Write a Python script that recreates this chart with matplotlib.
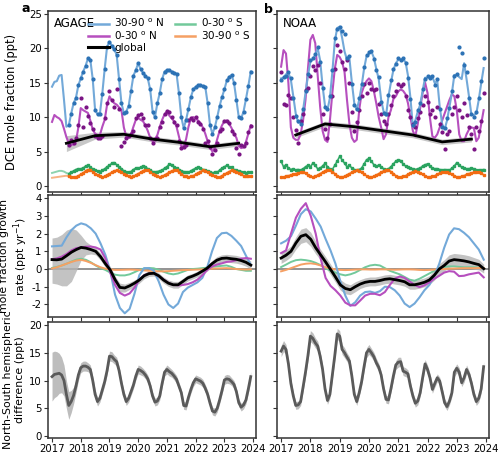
import numpy as np
import matplotlib
matplotlib.use("Agg")
import matplotlib.pyplot as plt
from matplotlib.lines import Line2D

plt.rcParams["axes.unicode_minus"] = False

# ---------------- data ----------------
months = 2017 + np.arange(84) / 12.0          # monthly time axis, Jan 2017 - Dec 2023
grid = np.linspace(2017.0, 2023.92, 42)       # growth-rate time axis
glob_years = [2017.5, 2018.5, 2019.5, 2020.5, 2021.5, 2022.5, 2023.5]

# AGAGE mole fractions (ppt)
n30_90_a = [14.4, 15.1, 15.2, 16.0, 16.1, 12.5, 8.6, 8.8, 10.5, 12.0, 12.8, 14.6,
            15.6, 16.6, 17.4, 18.5, 18.3, 15.5, 11.0, 10.4, 10.5, 13.4, 17.0, 20.2,
            20.9, 20.3, 19.8, 19.0, 15.5, 12.0, 10.6, 10.8, 11.6, 13.8, 16.0, 16.8,
            17.8, 16.9, 16.4, 16.0, 15.6, 14.0, 10.8, 10.0, 12.0, 13.5, 15.5, 16.6,
            16.8, 16.8, 16.6, 16.4, 16.3, 13.5, 10.0, 8.4, 9.6, 11.2, 12.9, 14.0,
            14.4, 14.6, 14.6, 14.5, 14.4, 12.0, 8.8, 7.6, 8.5, 10.0, 11.6, 12.9,
            14.0, 15.3, 15.8, 16.1, 15.0, 12.5, 10.0, 9.8, 10.8, 12.6, 14.5, 16.6]
n0_30_a = [9.3, 10.3, 10.0, 9.8, 9.4, 8.3, 7.1, 6.2, 6.0, 6.0, 6.5, 8.5,
           11.3, 11.0, 10.8, 10.6, 9.5, 8.2, 7.6, 7.4, 7.4, 8.6, 9.6, 11.8,
           13.0, 12.4, 12.0, 11.8, 11.4, 11.0, 8.5, 7.2, 7.0, 7.5, 8.6, 9.6,
           9.9, 9.6, 9.4, 8.8, 8.0, 7.0, 6.5, 6.8, 7.4, 8.6, 9.6, 10.4,
           10.8, 10.2, 9.8, 9.4, 8.6, 7.2, 5.8, 5.7, 6.8, 8.6, 9.8, 10.0,
           9.8, 9.5, 9.1, 8.5, 7.6, 6.5, 5.6, 5.0, 5.6, 6.8, 8.0, 8.8,
           9.4, 9.5, 9.0, 8.4, 7.6, 7.0, 5.8, 5.5, 5.6, 6.4, 7.6, 8.8]
n0_30_a_obs = [np.nan] * 7 + [
           6.0, 6.7, 6.3, 7.0, 8.8,
           12.7, 8.6, 11.5, 10.2, 9.1, 8.3, 7.2, 7.0, 7.0, 7.2, 9.8, 12.0,
           13.8, 12.5, 11.5, 14.0, 11.2, 5.8, 6.4, 7.0, 7.2, 7.5, 8.0, 9.8,
           10.3, 10.4, 9.9, 8.9, 8.8, 7.0, 6.3, 6.8, 7.0, 8.5, 9.3, 10.5,
           10.9, 10.7, 10.0, 9.3, 8.9, 6.5, 5.5, 5.6, 6.0, 9.6, 9.8, 9.6,
           10.0, 9.3, 9.0, 8.3, 6.2, 6.6, 5.6, 4.6, 5.2, 6.2, 8.0, 8.2,
           9.5, 9.4, 9.2, 8.0, 7.5, 5.5, 4.6, 6.0, 5.8, 6.2, 7.9, 8.7]
s0_30_a = [1.9, 2.0, 2.1, 2.2, 2.2, 2.1, 1.9, 1.8, 2.0, 2.2, 2.4, 2.5,
           2.5, 2.6, 2.9, 3.0, 2.7, 2.5, 2.3, 2.2, 2.1, 2.3, 2.5, 2.8,
           3.0, 3.3, 3.4, 3.1, 2.8, 2.5, 2.2, 2.0, 2.0, 2.1, 2.4, 2.6,
           2.6, 2.7, 2.9, 2.8, 2.5, 2.3, 2.1, 2.0, 2.1, 2.2, 2.3, 2.6,
           2.8, 3.2, 3.1, 2.8, 2.6, 2.4, 2.2, 2.1, 2.0, 2.0, 2.2, 2.4,
           2.6, 2.7, 2.6, 2.4, 2.3, 2.2, 2.0, 1.9, 2.0, 2.0, 2.3, 2.6,
           2.8, 3.0, 2.7, 2.7, 2.4, 2.3, 2.2, 2.1, 2.0, 1.9, 2.0, 2.0]
s30_90_a = [1.2, 1.25, 1.3, 1.35, 1.4, 1.45, 1.5, 1.4, 1.35, 1.3, 1.3, 1.5,
            1.7, 1.9, 2.2, 2.4, 2.3, 2.1, 1.8, 1.6, 1.4, 1.3, 1.4, 1.6,
            1.8, 2.0, 2.2, 2.3, 2.2, 2.0, 1.8, 1.6, 1.4, 1.3, 1.4, 1.6,
            1.8, 2.0, 2.2, 2.4, 2.3, 2.1, 1.8, 1.6, 1.4, 1.3, 1.4, 1.6,
            1.8, 2.0, 2.2, 2.3, 2.3, 2.0, 1.8, 1.5, 1.4, 1.3, 1.4, 1.5,
            1.7, 1.9, 2.1, 2.3, 2.2, 2.0, 1.8, 1.6, 1.4, 1.3, 1.3, 1.5,
            1.7, 1.9, 2.1, 2.3, 2.2, 2.1, 1.9, 1.7, 1.5, 1.4, 1.5, 1.4]
glob_a = [6.2, 7.3, 7.5, 6.8, 6.3, 5.7, 6.2]
glob_a_lo = [5.0, 6.8, 7.1, 6.4, 5.9, 5.3, 5.8]
glob_a_hi = [7.3, 7.8, 7.9, 7.2, 6.7, 6.1, 6.6]

# NOAA mole fractions (ppt)
n30_90_b = [15.6, 15.7, 16.2, 16.4, 15.4, 13.0, 10.5, 9.2, 9.2, 11.0, 13.5, 16.0,
            18.0, 18.4, 19.0, 20.0, 18.2, 14.5, 11.6, 11.0, 12.8, 16.5, 21.0, 22.9,
            23.1, 21.5, 19.5, 18.3, 18.5, 15.0, 12.0, 11.0, 12.5, 14.5, 17.0, 18.8,
            19.2, 19.5, 18.6, 17.0, 15.5, 12.5, 10.8, 10.2, 13.0, 15.0, 16.8, 17.8,
            18.3, 18.4, 18.3, 18.0, 16.0, 12.8, 8.6, 9.5, 10.8, 11.8, 13.8, 15.7,
            15.7, 15.9, 15.8, 14.9, 15.3, 11.5, 9.0, 8.2, 9.5, 11.5, 13.5, 16.1,
            16.1, 15.8, 15.5, 17.8, 15.5, 13.0, 10.3, 10.3, 10.5, 12.5, 14.9, 17.1]
n30_90_b_obs = [15.4, 15.8, 16.0, 16.6, 15.6, 12.8, 10.2, 9.4, 9.0, 11.2, 13.8, 16.2,
                18.3, 18.6, 19.2, 20.2, 18.0, 14.2, 11.4, 11.2, 13.0, 16.8, 21.5, 22.8,
                23.0, 22.4, 22.0, 18.5, 18.8, 14.8, 11.8, 11.2, 12.8, 14.8, 17.3, 19.0,
                19.4, 19.6, 18.4, 16.8, 15.8, 12.2, 10.6, 10.4, 13.2, 15.4, 17.0, 17.7,
                18.5, 18.2, 18.6, 17.8, 15.7, 12.6, 8.9, 9.3, 11.0, 12.0, 14.0, 15.5,
                15.9, 15.6, 16.0, 14.6, 15.5, 11.2, 8.6, 8.4, 9.8, 11.3, 13.8, 16.0,
                16.3, 20.1, 19.3, 17.5, 16.5, 12.8, 10.5, 10.0, 10.8, 12.8, 15.2, 18.6]
n0_30_b = [17.3, 19.7, 19.2, 14.9, 8.5, 7.0, 6.7, 6.7, 7.5, 9.5, 12.5, 17.0,
           21.2, 21.9, 20.7, 16.0, 11.5, 8.0, 6.7, 6.4, 9.5, 13.5, 17.0, 19.0,
           18.7, 18.0, 16.5, 12.5, 9.0, 7.0, 6.4, 6.7, 11.0, 13.5, 14.5, 15.2,
           15.6, 15.2, 13.8, 12.0, 10.0, 8.5, 6.8, 7.5, 10.0, 11.0, 12.6, 13.0,
           13.7, 14.0, 13.8, 13.3, 12.0, 10.0, 8.0, 7.2, 9.0, 11.3, 13.5, 15.0,
           13.5, 9.9, 7.2, 7.0, 7.5, 8.5, 9.5, 10.5, 11.5, 12.5, 13.3, 13.0,
           11.0, 7.5, 6.5, 6.5, 7.5, 8.2, 8.5, 8.4, 6.5, 7.0, 9.0, 11.0]
n0_30_b_obs = [16.6, 11.9, 11.7, 13.2, 12.8, 10.0, 8.1, 6.2, 9.5, 10.5, 13.9, 14.2,
               16.0, 17.4, 16.8, 17.5, 15.0, 10.5, 8.3, 7.0, 9.0, 13.0, 17.0, 20.5,
               19.5, 18.0, 17.0, 18.3, 15.0, 10.8, 8.0, 9.3, 11.0, 13.0, 14.8, 13.5,
               15.0, 14.0, 13.9, 14.0, 11.9, 10.5, 9.5, 9.0, 10.5, 11.8, 13.0, 13.8,
               14.8, 14.5, 14.8, 13.0, 11.0, 10.0, 9.0, 8.5, 9.8, 10.8, 11.8, 13.0,
               12.2, 10.5, 11.0, 10.0, 11.5, 9.0, 7.8, 5.4, 7.5, 8.0, 10.5, 11.5,
               13.0, 11.0, 10.0, 12.0, 10.3, 8.5, 7.5, 5.3, 8.5, 8.0, 9.5, 13.5]
s0_30_b = [3.6, 2.8, 3.1, 2.6, 2.4, 2.5, 2.3, 2.4, 2.3, 2.5, 2.8, 3.0,
           2.8, 3.3, 3.0, 2.5, 2.6, 2.9, 3.3, 2.8, 2.5, 2.4, 3.0, 3.6,
           4.3, 3.8, 3.3, 2.8, 3.0, 2.6, 2.4, 2.3, 2.4, 2.6, 3.2, 3.8,
           4.0, 3.6, 3.1, 2.9, 3.0, 2.8, 2.5, 2.4, 2.5, 2.8, 3.2, 3.6,
           3.8, 3.7, 3.2, 2.9, 2.7, 2.6, 2.5, 2.4, 2.5, 2.6, 2.9, 3.1,
           3.2, 2.9, 2.6, 2.5, 2.5, 2.4, 2.3, 2.4, 2.3, 2.3, 2.6, 2.9,
           3.4, 3.1, 2.7, 2.6, 2.5, 2.5, 2.6, 2.5, 2.3, 2.3, 2.3, 2.4]
s30_90_b = [1.3, 1.3, 1.4, 1.5, 1.6, 1.7, 1.8, 1.9, 2.0, 2.1, 1.9, 1.6,
            1.4, 1.3, 1.4, 1.6, 1.8, 2.0, 2.2, 2.4, 2.3, 2.1, 1.8, 1.5,
            1.3, 1.3, 1.4, 1.6, 1.8, 2.0, 2.2, 2.3, 2.2, 2.0, 1.7, 1.5,
            1.3, 1.3, 1.4, 1.6, 1.8, 2.0, 2.2, 2.4, 2.3, 2.1, 1.8, 1.5,
            1.3, 1.3, 1.4, 1.5, 1.7, 1.9, 2.1, 2.2, 2.1, 1.9, 1.7, 1.5,
            1.3, 1.3, 1.4, 1.5, 1.7, 1.9, 2.0, 2.1, 2.0, 1.9, 1.7, 1.5,
            1.3, 1.3, 1.4, 1.5, 1.7, 1.8, 1.9, 2.0, 2.1, 2.1, 1.9, 1.6]
glob_b = [7.4, 9.0, 8.6, 8.0, 7.4, 6.4, 6.8]
glob_b_lo = [7.0, 8.6, 8.2, 7.6, 7.0, 6.0, 6.4]
glob_b_hi = [7.8, 9.4, 9.0, 8.4, 7.8, 6.8, 7.2]

# growth rates (ppt/yr), AGAGE
gr_n30_90_a = [1.28, 1.3, 1.32, 1.8, 2.2, 2.45, 2.58, 2.5, 2.3, 2.0, 1.45, 0.8, -0.1, -1.45,
               -2.2, -2.5, -2.25, -1.4, -0.35, 0.05, 0.05, -0.1, -0.7, -1.45, -2.0, -2.2, -1.95, -1.3,
               -1.05, -0.9, -0.75, -0.5, 0.1, 1.0, 1.75, 2.02, 2.05, 1.87, 1.6, 1.3, 0.75, 0.24]
gr_n0_30_a = [0.55, 0.6, 0.7, 0.85, 1.05, 1.18, 1.22, 1.26, 1.27, 1.22, 1.1, 0.6, -0.2, -0.9,
              -1.35, -1.5, -1.38, -1.05, -0.6, -0.35, -0.25, -0.23, -0.4, -0.6, -0.78, -0.9, -0.92, -0.9,
              -0.85, -0.75, -0.6, -0.35, -0.05, 0.15, 0.25, 0.32, 0.4, 0.43, 0.5, 0.58, 0.62, 0.58]
gr_s0_30_a = [0.06, 0.12, 0.2, 0.3, 0.42, 0.53, 0.58, 0.52, 0.38, 0.2, 0.05, -0.05, -0.2, -0.32,
              -0.36, -0.36, -0.3, -0.18, -0.05, 0.03, 0.06, 0.04, -0.05, -0.15, -0.25, -0.3, -0.25, -0.15,
              -0.05, 0.0, 0.02, 0.05, 0.08, 0.12, 0.15, 0.18, 0.2, 0.12, 0.0, -0.05, -0.1, -0.1]
gr_s30_90_a = [0.03, 0.1, 0.2, 0.3, 0.4, 0.48, 0.52, 0.45, 0.35, 0.22, 0.1, 0.02, -0.02, -0.05,
               -0.05, -0.04, -0.03, -0.04, -0.06, -0.08, -0.1, -0.12, -0.13, -0.13, -0.12, -0.1, -0.08, -0.06,
               -0.05, -0.04, -0.03, -0.02, 0.0, 0.02, 0.03, 0.04, 0.05, 0.03, 0.0, -0.02, -0.03, -0.02]
gr_glob_a = [0.53, 0.52, 0.56, 0.75, 0.95, 1.1, 1.22, 1.18, 1.1, 1.0, 0.7, 0.3, -0.05, -0.6,
             -1.04, -1.07, -0.95, -0.8, -0.62, -0.38, -0.26, -0.24, -0.38, -0.62, -0.8, -0.89, -0.89, -0.7,
             -0.5, -0.4, -0.28, -0.12, 0.05, 0.3, 0.5, 0.6, 0.62, 0.58, 0.55, 0.48, 0.38, 0.22]
gr_glob_a_hi = [1.75, 1.8, 1.95, 2.2, 2.3, 2.2, 1.9, 1.55, 1.35, 1.2, 0.9, 0.5, 0.15, -0.4,
                -0.8, -0.85, -0.75, -0.62, -0.45, -0.22, -0.1, -0.08, -0.22, -0.45, -0.62, -0.7, -0.7, -0.52,
                -0.33, -0.24, -0.12, 0.04, 0.22, 0.48, 0.7, 0.8, 0.83, 0.8, 0.77, 0.7, 0.6, 0.45]
gr_glob_a_lo = [-0.8, -0.85, -0.95, -0.95, -0.7, -0.1, 0.5, 0.8, 0.85, 0.8, 0.5, 0.1, -0.25, -0.8,
                -1.3, -1.3, -1.15, -0.98, -0.8, -0.55, -0.42, -0.4, -0.55, -0.8, -0.98, -1.08, -1.08, -0.88,
                -0.67, -0.56, -0.44, -0.28, -0.12, 0.12, 0.3, 0.4, 0.41, 0.36, 0.33, 0.26, 0.16, 0.0]

# growth rates (ppt/yr), NOAA
gr_n30_90_b = [1.45, 1.6, 1.85, 2.45, 3.1, 3.38, 3.25, 2.85, 2.4, 1.7, 1.05, 0.3, -0.7, -1.5,
               -2.08, -1.88, -1.5, -1.3, -1.27, -1.35, -1.25, -1.0, -1.02, -1.2, -1.5, -1.95, -2.15, -1.95,
               -1.6, -1.2, -0.9, -0.4, 0.3, 1.2, 1.95, 2.3, 2.25, 2.05, 1.8, 1.45, 1.1, 0.53]
gr_n0_30_b = [0.9, 1.05, 2.0, 2.9, 3.4, 3.72, 3.0, 2.0, 0.6, -0.5, -0.95, -1.2, -1.5, -1.9,
              -2.05, -2.05, -1.78, -1.5, -1.4, -1.4, -1.48, -1.3, -0.9, -0.55, -0.42, -0.5, -0.7, -0.9,
              -1.02, -0.92, -0.75, -0.55, -0.38, -0.2, -0.12, -0.15, -0.4, -0.38, -0.3, -0.25, -0.2, -0.47]
gr_s0_30_b = [0.11, 0.25, 0.4, 0.5, 0.53, 0.5, 0.45, 0.35, 0.22, 0.05, -0.1, -0.2, -0.3, -0.36,
              -0.3, -0.2, -0.05, 0.1, 0.2, 0.24, 0.2, 0.05, -0.1, -0.2, -0.3, -0.45, -0.6, -0.66,
              -0.55, -0.4, -0.25, -0.1, 0.05, 0.12, 0.15, 0.15, 0.12, 0.1, 0.1, 0.1, 0.08, 0.06]
gr_s30_90_b = [-0.13, -0.05, 0.05, 0.15, 0.25, 0.3, 0.32, 0.28, 0.2, 0.1, 0.03, -0.02, -0.05, -0.06,
               -0.05, -0.03, -0.02, -0.02, -0.03, -0.03, -0.02, -0.02, -0.03, -0.04, -0.03, -0.02, -0.02, -0.03,
               -0.05, -0.06, -0.05, -0.03, -0.01, 0.0, 0.02, 0.03, 0.04, 0.05, 0.05, 0.05, 0.06, 0.06]
gr_glob_b = [0.62, 0.78, 1.0, 1.47, 1.85, 1.94, 1.68, 1.2, 0.8, 0.4, -0.02, -0.45, -0.9, -1.1,
             -1.17, -1.0, -0.85, -0.75, -0.7, -0.7, -0.65, -0.58, -0.55, -0.6, -0.65, -0.72, -0.89, -0.89,
             -0.83, -0.75, -0.62, -0.35, 0.0, 0.2, 0.45, 0.53, 0.5, 0.46, 0.4, 0.32, 0.25, 0.02]
gr_glob_b_err = [0.3, 0.3, 0.3, 0.35, 0.4, 0.4, 0.4, 0.35, 0.3, 0.3, 0.3, 0.3, 0.3, 0.3,
                 0.28, 0.28, 0.25, 0.25, 0.25, 0.25, 0.25, 0.25, 0.25, 0.25, 0.25, 0.25, 0.25, 0.25,
                 0.25, 0.25, 0.25, 0.28, 0.3, 0.32, 0.35, 0.35, 0.35, 0.35, 0.35, 0.33, 0.3, 0.25]

# north-south difference (ppt)
ns_a = [10.7, 11.1, 11.2, 11.3, 11.0, 10.0, 7.5, 5.5, 6.2, 7.3, 9.0, 11.0,
        12.3, 12.6, 12.6, 12.4, 12.0, 10.0, 7.5, 6.2, 6.8, 8.3, 9.8, 11.8,
        14.4, 14.3, 13.8, 13.4, 11.8, 9.5, 7.5, 6.2, 6.8, 8.0, 9.2, 10.8,
        12.0, 11.8, 11.5, 11.0, 10.3, 9.0, 7.2, 6.1, 6.3, 7.2, 9.5, 11.5,
        12.0, 11.6, 11.3, 10.8, 10.2, 9.0, 7.8, 5.5, 5.4, 7.0, 8.4, 9.6,
        10.3, 10.1, 9.9, 9.5, 8.6, 7.5, 5.9, 4.5, 4.3, 5.0, 6.5, 8.2,
        10.1, 10.3, 10.2, 9.8, 9.3, 8.0, 6.0, 5.2, 5.6, 6.5, 8.5, 10.7]
ns_a_err = [4.4, 4.2, 4.0, 3.6, 3.2, 2.8, 2.5, 2.5, 2.0, 1.5, 1.2, 1.0,
            0.9, 0.9, 0.9, 0.8, 0.8, 0.8, 0.8, 0.8, 0.7, 0.7, 0.7, 0.8,
            0.9, 0.9, 0.8, 0.8, 0.8, 0.7, 0.7, 0.7, 0.7, 0.7, 0.7, 0.7,
            0.8, 0.8, 0.7, 0.7, 0.7, 0.7, 0.7, 0.7, 0.7, 0.7, 0.7, 0.7,
            0.8, 0.8, 0.7, 0.7, 0.7, 0.7, 0.7, 0.7, 0.7, 0.7, 0.7, 0.7,
            0.7, 0.7, 0.7, 0.7, 0.7, 0.7, 0.7, 0.7, 0.7, 0.7, 0.7, 0.7,
            0.8, 0.8, 0.8, 0.7, 0.7, 0.7, 0.7, 0.7, 0.7, 0.7, 0.8, 0.9]
ns_b = [15.3, 16.2, 15.6, 13.0, 9.5, 7.2, 5.5, 5.6, 6.2, 8.8, 11.5, 14.5,
        18.0, 17.6, 16.8, 16.2, 14.4, 12.0, 8.5, 6.4, 7.5, 11.0, 14.5, 18.4,
        18.0, 15.6, 15.0, 14.2, 13.5, 10.8, 7.5, 6.2, 7.8, 9.8, 12.5, 15.0,
        15.6, 15.0, 14.3, 13.2, 12.4, 11.0, 8.5, 6.6, 6.5, 8.5, 10.8, 12.8,
        13.3, 13.4, 11.7, 11.5, 11.2, 9.0, 7.2, 5.9, 6.3, 7.8, 10.5, 13.0,
        12.0, 10.5, 8.4, 9.5, 10.5, 9.9, 8.0, 6.0, 5.3, 6.3, 7.8, 11.5,
        12.2, 11.5, 9.6, 10.5, 12.0, 11.1, 9.5, 7.5, 6.2, 6.8, 8.5, 12.5]
ns_b_err = [1.0, 1.0, 0.9, 0.8, 0.8, 0.7, 0.7, 0.7, 0.7, 0.8, 0.9, 1.0,
            1.0, 1.0, 0.9, 0.9, 0.8, 0.8, 0.7, 0.7, 0.7, 0.8, 0.9, 1.0,
            1.0, 0.9, 0.9, 0.8, 0.8, 0.7, 0.7, 0.7, 0.7, 0.8, 0.8, 0.9,
            0.9, 0.8, 0.8, 0.8, 0.7, 0.7, 0.7, 0.7, 0.7, 0.7, 0.8, 0.8,
            0.9, 0.8, 0.8, 0.8, 0.7, 0.7, 0.7, 0.7, 0.7, 0.7, 0.8, 0.8,
            0.8, 0.8, 0.7, 0.7, 0.7, 0.7, 0.7, 0.7, 0.7, 0.7, 0.7, 0.8,
            0.8, 0.8, 0.7, 0.8, 0.8, 0.7, 0.7, 0.7, 0.7, 0.7, 0.8, 0.9]

# ---------------- style ----------------
C_BLUE, C_BLUE_D = "#73a9d9", "#2c72b5"
C_PURP, C_PURP_D = "#b64fbe", "#7a1384"
C_GREEN, C_GREEN_D = "#72c99b", "#2aa35f"
C_ORANGE, C_ORANGE_D = "#f5a064", "#f26b12"
SPINE = "#333333"

fig = plt.figure(figsize=(5.0, 4.53), dpi=100)

cols = [(0.096, 0.416), (0.554, 0.424)]
rows = [(0.576, 0.3996), (0.3002, 0.2693), (0.0331, 0.256)]
ylims = [(-0.87, 25.36), (-2.71, 4.18), (-0.36, 20.54)]
yticks = [[0, 5, 10, 15, 20, 25], [-2, -1, 0, 1, 2, 3, 4], [0, 5, 10, 15, 20]]

axes = [[None, None], [None, None], [None, None]]
for r, (y0, h) in enumerate(rows):
    for c, (x0, w) in enumerate(cols):
        ax = fig.add_axes([x0, y0, w, h])
        ax.set_xlim(2016.86, 2024.1)
        ax.set_ylim(*ylims[r])
        ax.set_xticks(range(2017, 2025))
        ax.set_yticks(yticks[r])
        for s in ax.spines.values():
            s.set_color(SPINE)
            s.set_linewidth(1.1)
        ax.tick_params(direction="out", length=3, width=0.8, color=SPINE,
                       labelsize=7.3, pad=1.5)
        if r < 2:
            ax.set_xticklabels([])
        if c == 1:
            ax.set_yticklabels([])
        axes[r][c] = ax

# ---- top row: mole fractions ----
top_sets = [
    (axes[0][0], "AGAGE", n30_90_a, n30_90_a, n0_30_a, n0_30_a_obs, s0_30_a, s30_90_a,
     glob_a, glob_a_lo, glob_a_hi, 7),
    (axes[0][1], "NOAA", n30_90_b, n30_90_b_obs, n0_30_b, n0_30_b_obs, s0_30_b, s30_90_b,
     glob_b, glob_b_lo, glob_b_hi, 0),
]
for (ax, name, nb, nb_obs, np_, np_obs, sg, so, gl, gl_lo, gl_hi, i0) in top_sets:
    ax.fill_between(glob_years, gl_lo, gl_hi, color="#b0b0b0", alpha=0.7, lw=0, zorder=1)
    ax.plot(months, sg, color=C_GREEN, lw=1.4, alpha=0.8, zorder=2)
    ax.plot(months[i0:], sg[i0:], color=C_GREEN_D, lw=0.8, marker="s", ms=1.8, zorder=3)
    ax.plot(months, so, color=C_ORANGE, lw=1.4, alpha=0.8, zorder=2)
    ax.plot(months[i0:], so[i0:], color=C_ORANGE_D, lw=0.8, marker="s", ms=1.8, zorder=3)
    ax.plot(months, np_, color=C_PURP, lw=1.5, zorder=2)
    ax.plot(months, np_obs, ls="none", marker="o", ms=2.0, color=C_PURP_D, zorder=3)
    ax.plot(months, nb, color=C_BLUE, lw=1.5, zorder=2)
    ax.plot(months[i0:], nb_obs[i0:], ls="none", marker="o", ms=2.0, color=C_BLUE_D, zorder=3)
    ax.plot(glob_years, gl, color="black", lw=2.0, zorder=4)
    ax.text(0.03, 0.965, name, transform=ax.transAxes, ha="left", va="top", fontsize=8.5)

# legend in panel a
handles = [Line2D([], [], color=C_BLUE, lw=1.8),
           Line2D([], [], color=C_PURP, lw=1.8),
           Line2D([], [], color="black", lw=2.2),
           Line2D([], [], color=C_GREEN, lw=1.8),
           Line2D([], [], color=C_ORANGE, lw=1.8)]
labels = ["30-90 $^\\mathrm{o}$ N", "0-30 $^\\mathrm{o}$ N", "global",
          "0-30 $^\\mathrm{o}$ S", "30-90 $^\\mathrm{o}$ S"]
axes[0][0].legend(handles, labels, ncol=2, loc="upper right", frameon=False,
                  fontsize=7.5, handlelength=2.0, handletextpad=0.5,
                  columnspacing=1.0, labelspacing=0.05, borderaxespad=0.15)

# ---- middle row: growth rates ----
mid_sets = [
    (axes[1][0], gr_n30_90_a, gr_n0_30_a, gr_s0_30_a, gr_s30_90_a, gr_glob_a,
     gr_glob_a_lo, gr_glob_a_hi),
    (axes[1][1], gr_n30_90_b, gr_n0_30_b, gr_s0_30_b, gr_s30_90_b, gr_glob_b,
     list(np.array(gr_glob_b) - np.array(gr_glob_b_err)),
     list(np.array(gr_glob_b) + np.array(gr_glob_b_err))),
]
for (ax, gb, gp, gg, go, gk, lo, hi) in mid_sets:
    ax.axhline(0, color="#8a8a8a", lw=1.3, zorder=1)
    ax.fill_between(grid, lo, hi, color="#b5b5b5", alpha=0.8, lw=0, zorder=2)
    ax.plot(grid, gg, color=C_GREEN, lw=1.4, zorder=3)
    ax.plot(grid, go, color=C_ORANGE, lw=1.4, zorder=3)
    ax.plot(grid, gb, color=C_BLUE, lw=1.5, zorder=3)
    ax.plot(grid, gp, color=C_PURP, lw=1.5, zorder=3)
    ax.plot(grid, gk, color="black", lw=2.0, zorder=4)

# ---- bottom row: north-south difference ----
for ax, ns, err in [(axes[2][0], ns_a, ns_a_err), (axes[2][1], ns_b, ns_b_err)]:
    ns = np.array(ns)
    err = np.array(err)
    ax.fill_between(months, ns - err, ns + err, color="#bdbdbd", lw=0, zorder=1)
    ax.plot(months, ns, color="#5a5a5a", lw=2.0, zorder=2)

# labels
axes[0][0].set_ylabel("DCE mole fraction (ppt)", fontsize=8.3)
axes[1][0].set_ylabel("mole fraction growth\nrate (ppt yr$^{-1}$)", fontsize=7.8,
                      linespacing=1.15)
axes[2][0].set_ylabel("North-South hemispheric\ndifference (ppt)", fontsize=7.9,
                      linespacing=1.3)
axes[0][0].yaxis.set_label_coords(-0.145, 0.5)
axes[1][0].yaxis.set_label_coords(-0.088, 0.5)
axes[2][0].yaxis.set_label_coords(-0.11, 0.5)

fig.text(0.052, 0.995, "a", fontsize=9, fontweight="bold", ha="center", va="top")
fig.text(0.536, 0.993, "b", fontsize=9, fontweight="bold", ha="center", va="top")

fig.savefig("out.png", dpi=100)
plt.close(fig)
